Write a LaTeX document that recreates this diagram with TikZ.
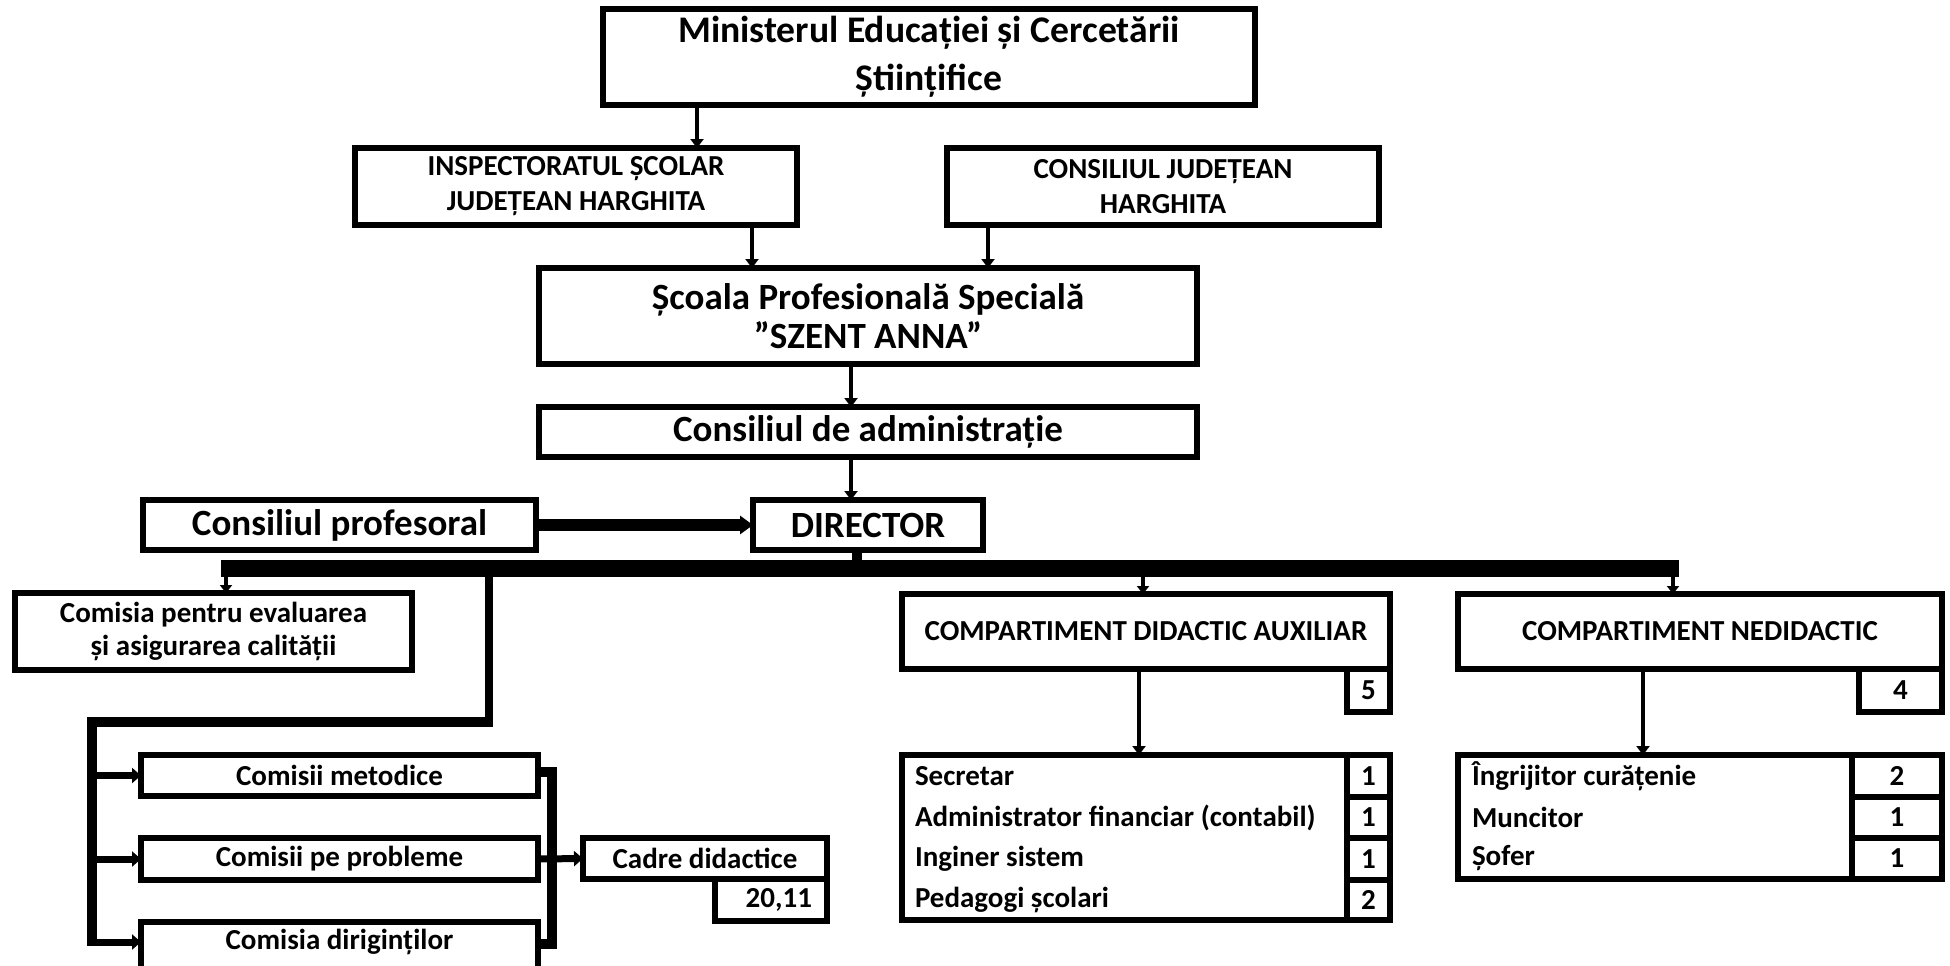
\documentclass[tikz,border=0pt]{standalone}
\usepackage{fontspec}
\setmainfont{Carlito}
\usetikzlibrary{arrows.meta}
\begin{document}
\begin{tikzpicture}[x=0.5pt,y=-0.5pt,
  bx/.style={draw, line width=3pt, inner sep=0pt, outer sep=0pt, align=center, line join=miter,
             font=\bfseries\fontsize{14.5}{17.5}\selectfont},
  big/.style={font=\bfseries\fontsize{18.5}{22}\selectfont},
  txt/.style={inner sep=0pt, outer sep=0pt, font=\bfseries\fontsize{14.5}{17.5}\selectfont},
  arr/.style={line width=2.25pt, -{Triangle[length=4.5pt,width=6.5pt]}},
  tarr/.style={line width=1.6pt, -{Triangle[length=4pt,width=6pt]}},
  harr/.style={line width=3.5pt, -{Triangle[length=4.5pt,width=7.5pt]}},
  karr/.style={line width=6pt, -{Triangle[length=6.5pt,width=9pt]}},
  link/.style={line width=5pt, line join=miter},
]
\useasboundingbox (0,0) rectangle (1950,965);
\fill[white] (0,0) rectangle (1950,965);
\clip (0,0) rectangle (1950,965);

% top levels
\node[bx, font=\bfseries\fontsize{18.8}{24}\selectfont, minimum width=326pt, minimum height=48pt] (min) at (929,57)
  {Ministerul Educației și Cercetării\\Științifice};
\node[bx, minimum width=221pt, minimum height=38.5pt] (insp) at (576,186.5)
  {INSPECTORATUL ȘCOLAR\\JUDEȚEAN HARGHITA};
\node[bx, minimum width=216pt, minimum height=38.5pt] (cj) at (1163,186.5)
  {CONSILIUL JUDEȚEAN\\HARGHITA};
\node[bx, font=\bfseries\fontsize{18.5}{19.5}\selectfont, minimum width=329pt, minimum height=48pt] (scoala) at (868,316)
  {Școala Profesională Specială\\”SZENT ANNA”};
\node[bx, big, minimum width=329pt, minimum height=25pt] (admin) at (868,432) {Consiliul de administrație};
\node[bx, big, minimum width=196.5pt, minimum height=25pt] (cp) at (339.5,525) {Consiliul profesoral};
\node[bx, big, minimum width=115pt, minimum height=25pt] (dir) at (868,525) {DIRECTOR};

% second row
\node[bx, font=\bfseries\fontsize{14.5}{16.5}\selectfont, minimum width=198.5pt, minimum height=38.5pt] (eval) at (213.5,631.5)
  {Comisia pentru evaluarea\\și asigurarea calității};
\node[bx, minimum width=244pt, minimum height=37.5pt] (cda) at (1146,631.5) {COMPARTIMENT DIDACTIC AUXILIAR};
\node[bx, minimum width=21.5pt, minimum height=21.5pt] (cdan) at (1368.5,690.5) {5};
\node[bx, minimum width=242pt, minimum height=37.5pt] (cn) at (1700,631.5) {COMPARTIMENT NEDIDACTIC};
\node[bx, minimum width=41.5pt, minimum height=21.5pt] (cnn) at (1900.5,690.5) {4};

% lists
\node[bx, minimum width=244pt, minimum height=82.5pt] (cdal) at (1146,837.5) {};
\node[bx, minimum width=21.5pt, minimum height=21pt] (c1) at (1368.5,776) {1};
\node[bx, minimum width=21.5pt, minimum height=20.5pt] (c2) at (1368.5,817.5) {1};
\node[bx, minimum width=21.5pt, minimum height=21pt] (c3) at (1368.5,859) {1};
\node[bx, minimum width=21.5pt, minimum height=20pt] (c4) at (1368.5,900) {2};
\node[txt, anchor=west] (t1) at (915,776) {Secretar};
\node[txt, anchor=west] (t2) at (915,817.5) {Administrator financiar (contabil)};
\node[txt, anchor=west] (t3) at (915,859) {Inginer sistem};
\node[txt, anchor=west] (t4) at (915,900) {Pedagogi școlari};

\node[bx, minimum width=242pt, minimum height=62pt] (cnl) at (1700,817) {};
\node[bx, minimum width=45pt, minimum height=21pt] (n1) at (1897,776) {2};
\node[bx, minimum width=45pt, minimum height=20.5pt] (n2) at (1897,817.5) {1};
\node[bx, minimum width=45pt, minimum height=20.5pt] (n3) at (1897,858.5) {1};
\node[txt, anchor=west] (u1) at (1472,776) {Îngrijitor curățenie};
\node[txt, anchor=west] (u2) at (1472,817.5) {Muncitor};
\node[txt, anchor=west] (u3) at (1472,858.5) {Șofer};

% commissions
\node[bx, minimum width=198.5pt, minimum height=20.5pt] (met) at (339.5,775.5) {Comisii metodice};
\node[bx, minimum width=198.5pt, minimum height=21pt] (prob) at (339.5,859) {Comisii pe probleme};
\node[bx, minimum width=198.5pt, minimum height=26.5pt] (dirig) at (339.5,948.5)
  {\raisebox{3.5pt}[\height][\depth]{Comisia diriginților}};
\node[bx, minimum width=122pt, minimum height=20.5pt] (cadre) at (705,858.5) {Cadre didactice};
\node[bx, minimum width=56pt, minimum height=21pt] (cadn) at (771,900) {\makebox[41pt][r]{20,11}};

% connectors top
\draw[arr] (min.south -| 697,0) -- (insp.north -| 697,0);
\draw[arr] (insp.south -| 752,0) -- (scoala.north -| 752,0);
\draw[arr] (cj.south -| 988,0) -- (scoala.north -| 988,0);
\draw[arr] (scoala.south -| 851,0) -- (admin.north -| 851,0);
\draw[arr] (admin.south -| 851,0) -- (dir.north -| 851,0);
\draw[karr] (cp.east) -- (dir.west);

% bus
\coordinate (busL) at (221,568);
\coordinate (busR) at (1679,568);
\draw[line width=5pt] (dir.south -| 857,0) -- (857,568);
\draw[line width=8.5pt] (busL) -- (busR);
\draw[tarr] (226,568) -- (eval.north -| 226,0);
\draw[tarr] (1143,568) -- (cda.north -| 1143,0);
\draw[tarr] (1673,568) -- (cn.north -| 1673,0);

% left spine
\coordinate (sp) at (489,568);
\coordinate (spk) at (489,722);
\coordinate (spx) at (92,722);
\coordinate (spb) at (92,946);
\draw[line width=4pt] (sp) -- (489,727);
\draw[link] (spk) -- (spx) -- (spb);
\draw[harr] (spx |- met.west) -- (met.west);
\draw[harr] (spx |- prob.west) -- (prob.west);
\draw[harr] (92,942) -- ([yshift=-10pt]dirig.north west);

% bracket
\coordinate (brT) at (552,772);
\coordinate (brB) at (552,944);
\draw[link] (met.east |- brT) -- (brT) -- (brB) -- (dirig.east |- brB);
\draw[harr] (prob.east) -- (cadre.west);

% compartment arrows
\draw[arr] (cda.south -| 1139,0) -- (cdal.north -| 1139,0);
\draw[arr] (cn.south -| 1643,0) -- (cnl.north -| 1643,0);
\end{tikzpicture}
\end{document}
